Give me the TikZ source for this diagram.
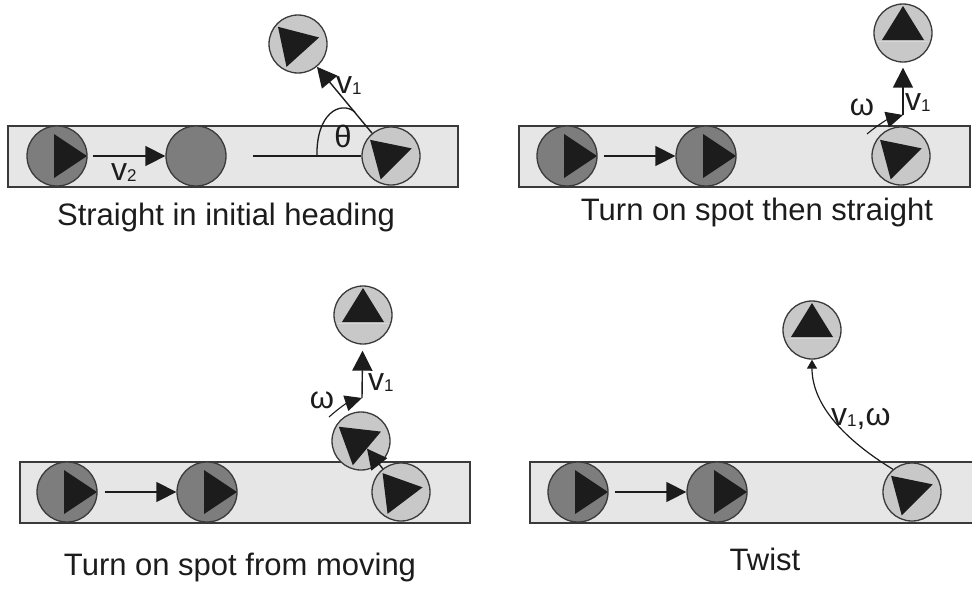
\documentclass[tikz,border=0pt]{standalone}
\usepackage{fontspec}
\setmainfont{Liberation Sans}
\usetikzlibrary{arrows.meta,calc}
\definecolor{darkfill}{HTML}{7D7D7D}
\definecolor{lightfill}{HTML}{C8C8C8}
\definecolor{trackfill}{HTML}{E6E6E6}
\definecolor{edgecol}{HTML}{3A3A3A}
\definecolor{tricol}{HTML}{1C1C1C}
\newcommand\lsub[1]{\raisebox{-1pt}{\fontsize{17}{17}\selectfont #1}}
\tikzset{
 track/.style={fill=trackfill, draw=edgecol, line width=1.3pt},
 darkbot/.style={circle, draw=edgecol, line width=1.3pt, fill=darkfill, minimum size=60pt, inner sep=0pt},
 lightbot/.style={circle, draw=edgecol, line width=1.3pt, fill=lightfill, minimum size=58pt, inner sep=0pt},
 trifill/.style={fill=tricol},
 plainline/.style={draw=tricol, line width=1.3pt},
 vel/.style={draw=tricol, line width=1.4pt, -{Triangle[length=20pt,width=20pt]}},
 spin/.style={draw=tricol, line width=1.1pt, -{Triangle[length=17pt,width=16pt]}},
 twistarrow/.style={draw=tricol, line width=1.2pt, -{Triangle[length=9pt,width=10pt]}},
 caption/.style={font=\fontsize{31}{31}\selectfont, anchor=base, inner sep=0pt, text=tricol},
 lab/.style={font=\fontsize{32}{32}\selectfont, anchor=base west, inner sep=0pt, text=tricol},
 greek/.style={font=\fontsize{31}{31}\selectfont, anchor=base, inner sep=0pt, text=tricol},
}
\newcommand\darktri[1]{\fill[trifill, shift={(#1)}] (-3,-22) -- (-3,22) -- (30,0) -- cycle;}
\newcommand\lighttri[2]{\fill[trifill, shift={(#1)}, rotate=#2] (-16,-21) -- (-16,20) -- (22,-2) -- cycle;}
\newcommand\uptri[1]{\draw[white!30!lightfill, line width=0.8pt, shift={(#1)}] (-26,8) -- (26,8);
  \fill[trifill, shift={(#1)}] (-21,7) -- (21,7) -- (0,-27) -- cycle;}
\begin{document}
\begin{tikzpicture}[x=1pt,y=-1pt]
\useasboundingbox (0,0) rectangle (972,589);
\fill[white] (0,0) rectangle (972,589);
% ---------- panel 1 ----------
\draw[track] (8,126) rectangle (458,187);
\node[darkbot] (d11) at (57,156) {};
\node[darkbot] (d12) at (196,156) {};
\node[lightbot] (l11) at (391,156) {};
\node[lightbot] (l12) at (298,44) {};
\darktri{d11}
\lighttri{l11}{15}
\lighttri{l12}{12}
\draw[vel, shorten <=5pt] (d11) -- (d12);
\node[lab] (v2) at (111,180) {v\lsub{2}};
\coordinate (h1) at (253,156);
\draw[plainline] (h1) -- (l11);
\draw[vel] (l11) -- (l12);
\coordinate (a0) at (317,156);
\coordinate (a1) at (355,112);
\draw[plainline] (a0) .. controls (316,114) and (340,100) .. (a1);
\node[greek] (th) at (343,147) {θ};
\node[lab] (v1a) at (336,93) {v\lsub{1}};
\node[caption] (cap1) at (226,225) {Straight in initial heading};
% ---------- panel 2 ----------
\draw[track] (519,126) rectangle (970,187);
\node[darkbot] (d21) at (567,156) {};
\node[darkbot] (d22) at (706,156) {};
\node[lightbot] (l21) at (901,156) {};
\node[lightbot] (l22) at (903,33) {};
\darktri{d21}
\darktri{d22}
\lighttri{l21}{15}
\uptri{l22}
\draw[vel, shorten <=6pt] (d21) -- (d22);
\coordinate (c2) at (903,115);
\draw[vel, shorten >=5pt] (c2) -- (l22);
\coordinate (w2) at (867,134);
\draw[spin] (w2) to[bend left=12] (c2);
\node[greek] (om2) at (862,115) {ω};
\node[lab] (v1b) at (905,110) {v\lsub{1}};
\node[caption] (cap2) at (757,220) {Turn on spot then straight};
% ---------- panel 3 ----------
\draw[track] (20,462) rectangle (470,523);
\node[darkbot] (d31) at (67,492) {};
\node[darkbot] (d32) at (207,492) {};
\node[lightbot] (l31) at (401,492) {};
\node[lightbot] (l32) at (361,441) {};
\node[lightbot] (l33) at (363,315) {};
\darktri{d31}
\darktri{d32}
\lighttri{l31}{7}
\lighttri{l32}{20}
\uptri{l33}
\draw[vel, shorten <=7pt] (d31) -- (d32);
\draw[vel] (l31) -- ($(l32)!0.15!(l31)$);
\coordinate (c3) at (362,398);
\draw[vel, shorten >=6pt] (c3) -- (l33);
\coordinate (w3) at (329,417);
\draw[spin] (w3) to[bend left=12] (c3);
\node[greek] (om3) at (322,408) {ω};
\node[lab] (v1c) at (368,390) {v\lsub{1}};
\node[caption] (cap3) at (240,575) {Turn on spot from moving};
% ---------- panel 4 ----------
\fill[trackfill] (530,462) rectangle (972,523);
\draw[edgecol, line width=1.3pt] (972,462) -- (530,462) -- (530,523) -- (972,523);
\node[darkbot] (d41) at (578,492) {};
\node[darkbot] (d42) at (717,492) {};
\node[lightbot] (l41) at (912,492) {};
\node[lightbot] (l42) at (812,330) {};
\darktri{d41}
\darktri{d42}
\lighttri{l41}{15}
\uptri{l42}
\draw[vel, shorten <=6pt] (d41) -- (d42);
\draw[twistarrow] (l41.130) .. controls (845,440) and (812,405) .. (l42.south);
\node[lab] (v1d) at (831,425) {v\lsub{1},ω};
\node[caption] (cap4) at (765,570) {Twist};
\end{tikzpicture}
\end{document}
